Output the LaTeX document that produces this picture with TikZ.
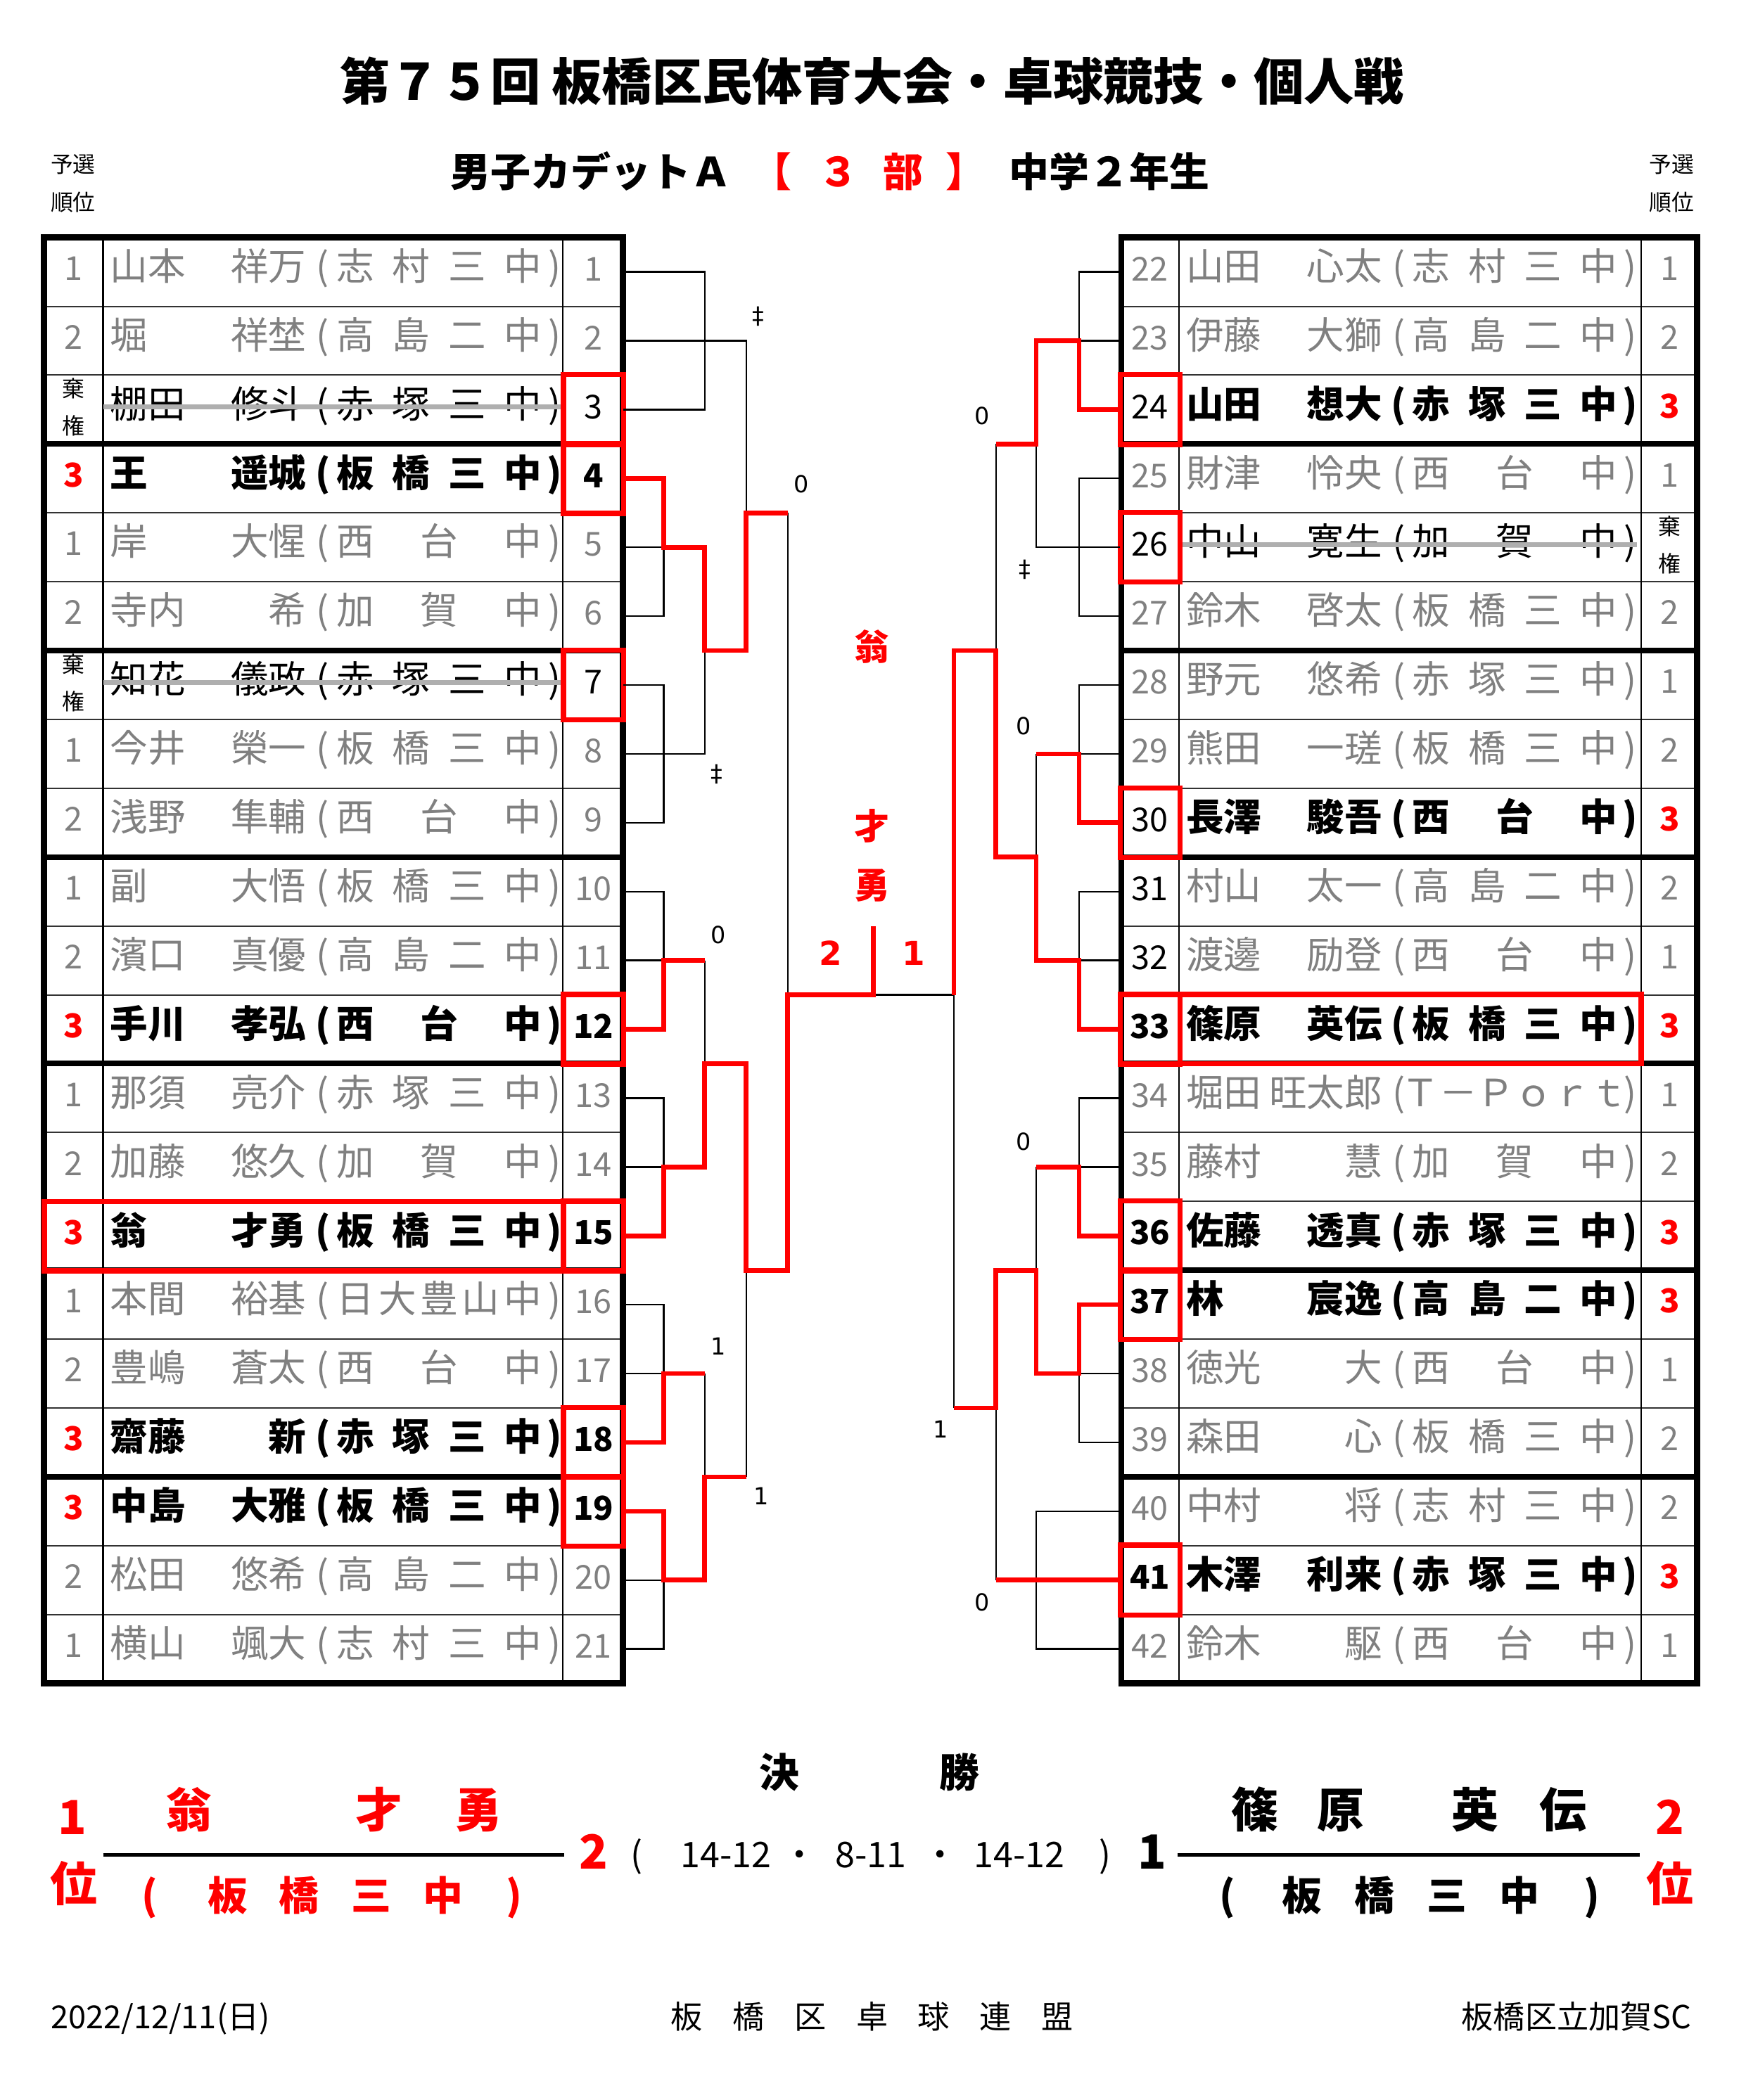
\documentclass[tikz,border=0pt]{standalone}
\usepackage{fontspec}
\setmainfont{Noto Sans CJK JP}
\newfontfamily\latfont{DejaVu Sans}
\usetikzlibrary{positioning}

\definecolor{txtgray}{RGB}{128,128,128}
\definecolor{strikegray}{RGB}{175,175,175}

% spread the letters of a school name over its column
\def\spreadA#1{#1\spreadB}
\def\spreadB#1{\ifx\relax#1\else\hfill#1\expandafter\spreadB\fi}
\newcommand\spreadchars[1]{\expandafter\spreadA#1\relax}

% centre line of a table row
\pgfmathdeclarefunction{ry}{1}{\pgfmathparse{177.3+(#1-0.5)*51.41}}

\begin{document}
\begin{tikzpicture}[x=0.02cm,y=-0.02cm,
  txt/.style={inner sep=0pt, text height=0.88em, text depth=0.12em},
  nm/.style={txt, font=\fontsize{16}{16}\selectfont},
  st g/.style={text=txtgray},
  st w/.style={text=black},
  st b/.style={text=black, execute at begin node=\bfseries},
  numcell/.style={txt, minimum width=0.88cm, minimum height=1.028cm, font=\fontsize{14}{14}\selectfont},
  nu g/.style={text=txtgray},
  nu k/.style={text=black},
  nu b/.style={text=black, execute at begin node=\bfseries},
  rank/.style={txt, font=\fontsize{14}{14}\selectfont},
  rk 1/.style={text=txtgray},
  rk 2/.style={text=txtgray},
  rk 3/.style={text=red, execute at begin node=\bfseries},
  tinyjp/.style={txt, font=\fontsize{9.5}{9.5}\selectfont},
  lab/.style={txt, font=\latfont\fontsize{10}{10}\selectfont},
  sub/.style={txt, font=\bfseries\fontsize{17}{17}\selectfont},
  big/.style={txt, font=\bfseries\fontsize{20}{20}\selectfont},
  mid/.style={txt, font=\bfseries\fontsize{17}{17}\selectfont},
  score/.style={txt, font=\fontsize{15}{15}\selectfont},
  foot/.style={txt, font=\fontsize{13.5}{13.5}\selectfont},
  rowline/.style={black!80, line width=0.6pt},
  grpline/.style={black, line width=2.4pt},
  tabframe/.style={black, line width=2.6pt},
  strike/.style={strikegray, line width=2pt},
  redbox/.style={red, line width=2.2pt},
  bk/.style={black, line width=0.7pt},
  win/.style={red, line width=2pt},
]
\fill[white] (0,0) rectangle (1303,1568);
\useasboundingbox (0,0) rectangle (1303,1568);

% headings
\node[txt, font=\bfseries\fontsize{21.3}{21.3}\selectfont] (title) at (651,68) {第７５回 板橋区民体育大会・卓球競技・個人戦};
\node[sub] (cls) at (441,133) {男子カデットＡ};
\node[sub, red] (bra) at (576,133) {【};
\node[sub, red] (div) at (626,133) {３};
\node[sub, red] (bu) at (674,133) {部};
\node[sub, red] (ket) at (721,133) {】};
\node[sub] (grade) at (828,133) {中学２年生};
\node[tinyjp] (yl1) at (54.5,122.5) {予選};
\node[tinyjp] (yl2) at (54.5,150.5) {順位};
\node[tinyjp] (yr1) at (1248,122.5) {予選};
\node[tinyjp] (yr2) at (1248,150.5) {順位};

% tables
\foreach \xa/\xb/\xc/\xd in {33/77/420/465, 837/880/1225/1267} {
  \foreach \k in {1,...,20}
    \draw[rowline] (\xa,{177.3+\k*51.41}) -- (\xd,{177.3+\k*51.41});
  \foreach \k in {3,6,...,18}
    \draw[grpline] (\xa,{177.3+\k*51.41}) -- (\xd,{177.3+\k*51.41});
  \draw[bk] (\xb,177.3) -- (\xb,1257);
  \draw[bk] (\xc,177.3) -- (\xc,1257);
  \draw[tabframe] (\xa,177.3) rectangle (\xd,1257);
}

% players
\foreach \n/\sur/\giv/\sch/\rk/\st/\ns in {
  1/山本/祥万/志村三中/1/g/g, 2/堀/祥埜/高島二中/2/g/g, 3/棚田/修斗/赤塚三中/x/w/k,
  4/王/遥城/板橋三中/3/b/b, 5/岸/大惺/西台中/1/g/g, 6/寺内/希/加賀中/2/g/g,
  7/知花/儀政/赤塚三中/x/w/k, 8/今井/榮一/板橋三中/1/g/g, 9/浅野/隼輔/西台中/2/g/g,
  10/副/大悟/板橋三中/1/g/g, 11/濱口/真優/高島二中/2/g/g, 12/手川/孝弘/西台中/3/b/b,
  13/那須/亮介/赤塚三中/1/g/g, 14/加藤/悠久/加賀中/2/g/g, 15/翁/才勇/板橋三中/3/b/b,
  16/本間/裕基/日大豊山中/1/g/g, 17/豊嶋/蒼太/西台中/2/g/g, 18/齋藤/新/赤塚三中/3/b/b,
  19/中島/大雅/板橋三中/3/b/b, 20/松田/悠希/高島二中/2/g/g, 21/横山/颯大/志村三中/1/g/g,
  22/山田/心太/志村三中/1/g/g, 23/伊藤/大獅/高島二中/2/g/g, 24/山田/想大/赤塚三中/3/b/k,
  25/財津/怜央/西台中/1/g/g, 26/中山/寛生/加賀中/x/w/k, 27/鈴木/啓太/板橋三中/2/g/g,
  28/野元/悠希/赤塚三中/1/g/g, 29/熊田/一瑳/板橋三中/2/g/g, 30/長澤/駿吾/西台中/3/b/k,
  31/村山/太一/高島二中/2/g/k, 32/渡邊/励登/西台中/1/g/k, 33/篠原/英伝/板橋三中/3/b/b,
  34/堀田/旺太郎/Ｔ－Ｐｏｒｔ/1/g/g, 35/藤村/慧/加賀中/2/g/g, 36/佐藤/透真/赤塚三中/3/b/b,
  37/林/宸逸/高島二中/3/b/b, 38/徳光/大/西台中/1/g/g, 39/森田/心/板橋三中/2/g/g,
  40/中村/将/志村三中/2/g/g, 41/木澤/利来/赤塚三中/3/b/b, 42/鈴木/駆/西台中/1/g/g} {
  \pgfmathsetmacro\namex{\n<22 ? 77 : 880}
  \pgfmathsetmacro\numx{\n<22 ? 443 : 858.5}
  \pgfmathsetmacro\rkx{\n<22 ? 55 : 1246.5}
  \pgfmathsetmacro\rowy{ry(\n<22 ? \n : \n-21)}
  \node[numcell, nu \ns] (n\n) at (\numx,\rowy) {\n};
  \node[nm, st \st, anchor=west] (s\n) at (\namex+5,\rowy-0.5) {\sur};
  \node[nm, st \st, anchor=east] (g\n) at (\namex+152,\rowy-0.5) {\giv};
  \node[nm, st \st] (o\n) at (\namex+164,\rowy-0.5) {(};
  \node[nm, st \st, anchor=west] (c\n) at (\namex+174,\rowy-0.5) {\makebox[3.06cm]{\spreadchars\sch}};
  \node[nm, st \st] (e\n) at (\namex+337,\rowy-0.5) {)};
  \if w\st
    \draw[strike] (\namex,\rowy-2) -- (\namex+342,\rowy-2);
  \fi
  \if x\rk
    \node[tinyjp] (ka\n) at (\rkx,\rowy-16) {棄};
    \node[tinyjp] (kb\n) at (\rkx,\rowy+12) {権};
  \else
    \node[rank, rk \rk] (r\n) at (\rkx,\rowy-0.5) {\rk};
  \fi
}

% red boxes
\foreach \b in {3,4,7,12,15,18,19,24,26,30,33,36,37,41}
  \draw[redbox] (n\b.north west) rectangle (n\b.south east);
\draw[redbox] (33,897.0) rectangle (n15.south east);
\draw[redbox] (n33.north west) rectangle (1225,794.2);

% left bracket
\draw[bk] (n1.east) -| (526,{ry(3)}) -- (n3.east);
\draw[bk] (n2.east) -| (557,{ry(4.5)});
\draw[bk] (n5.east) -| (495.5,{ry(6)}) -- (n6.east);
\draw[bk] (n7.east) -| (495.5,{ry(9)}) -- (n9.east);
\draw[bk] (n8.east) -| (526,{ry(6.5)});
\draw[bk] (588,{ry(4.5)}) -- (588,{ry(11.5)});
\draw[bk] (n10.east) -| (495.5,{ry(11)}) -- (n11.east);
\draw[bk] (526,{ry(11)}) -- (526,{ry(12.5)});
\draw[bk] (n13.east) -| (495.5,{ry(14)}) -- (n14.east);
\draw[bk] (n16.east) -| (495.5,{ry(17)}) -- (n17.east);
\draw[bk] (526,{ry(17)}) -- (526,{ry(18.5)});
\draw[bk] (n20.east) -| (495.5,{ry(21)}) -- (n21.east);
\draw[bk] (557,{ry(15.5)}) -- (557,{ry(18.5)});

% right bracket
\draw[bk] (n22.west) -| (805.5,{ry(2)}) -- (n23.west);
\draw[bk] (n25.west) -| (805.5,{ry(6)}) -- (n27.west);
\draw[bk] (n26.west) -| (773.5,{ry(3.5)});
\draw[bk] (743.4,{ry(3.5)}) -- (743.4,{ry(6.5)});
\draw[bk] (n28.west) -| (805.5,{ry(8)}) -- (n29.west);
\draw[bk] (773.5,{ry(8)}) -- (773.5,{ry(9.5)});
\draw[bk] (n31.west) -| (805.5,{ry(11)}) -- (n32.west);
\draw[bk] (n34.west) -| (805.5,{ry(14)}) -- (n35.west);
\draw[bk] (773.5,{ry(14)}) -- (773.5,{ry(15.5)});
\draw[bk] (n38.west) -| (805.5,{ry(18)}) -- (n39.west);
\draw[bk] (n40.west) -| (773.5,{ry(21)}) -- (n42.west);
\draw[bk] (743.4,{ry(17.5)}) -- (743.4,{ry(20)});
\draw[bk] (712,{ry(11.5)}) -- (712,{ry(17.5)});
\draw[bk] (652,{ry(11.5)}) -- (712,{ry(11.5)});

% winners
\draw[win] (n4.east) -| (495.5,{ry(5)}) -| (526,{ry(6.5)}) -| (557,{ry(4.5)}) -- (588,{ry(4.5)});
\draw[win] (n12.east) -| (495.5,{ry(11)}) -- (526,{ry(11)});
\draw[win] (n15.east) -| (495.5,{ry(14)}) -| (526,{ry(12.5)}) -| (557,{ry(15.5)}) -| (588,{ry(11.5)}) -- (652,{ry(11.5)}) -- (652,{ry(10.5)});
\draw[win] (n18.east) -| (495.5,{ry(17)}) -- (526,{ry(17)});
\draw[win] (n19.east) -| (495.5,{ry(20)}) -| (526,{ry(18.5)}) -- (557,{ry(18.5)});
\draw[win] (n24.west) -| (805.5,{ry(2)}) -| (773.5,{ry(3.5)}) -- (743.4,{ry(3.5)});
\draw[win] (n30.west) -| (805.5,{ry(8)}) -- (773.5,{ry(8)});
\draw[win] (n33.west) -| (805.5,{ry(11)}) -| (773.5,{ry(9.5)}) -| (743.4,{ry(6.5)}) -| (712,{ry(11.5)});
\draw[win] (n36.west) -| (805.5,{ry(14)}) -- (773.5,{ry(14)});
\draw[win] (n37.west) -| (805.5,{ry(17)}) -| (773.5,{ry(15.5)}) -| (743.4,{ry(17.5)}) -- (712,{ry(17.5)});
\draw[win] (n41.west) -- (743.4,{ry(20)});

% scores
\foreach \x/\y/\t [count=\i] in {566/235/‡, 598/361/0, 535/577/‡, 536/698/0, 536/1005/1, 568/1117/1,
  733/310/0, 765/424/‡, 764/542/0, 764/852/0, 702/1067/1, 733/1196/0}
  \node[lab] (sc\i) at (\x,\y) {\t};
\node[txt, red, font=\bfseries\fontsize{15}{15}\selectfont] (ch1) at (651,486) {翁};
\node[txt, red, font=\bfseries\fontsize{15}{15}\selectfont] (ch2) at (651,620) {才};
\node[txt, red, font=\bfseries\fontsize{15}{15}\selectfont] (ch3) at (651,664) {勇};
\node[txt, red, font=\latfont\bfseries\fontsize{14}{14}\selectfont] (fl) at (620,714) {2};
\node[txt, red, font=\latfont\bfseries\fontsize{14}{14}\selectfont] (fr) at (682,714) {1};

% final
\node[mid] (ke) at (582,1328) {決};
\node[mid] (sho) at (716,1328) {勝};
\node[big, red] (p1) at (54,1363) {1};
\node[big, red] (i1) at (55,1413) {位};
\node[big, red] (p2) at (1246.5,1363) {2};
\node[big, red] (i2) at (1246.5,1413) {位};
\foreach \x/\t [count=\i] in {141/翁, 283/才, 357/勇}
  \node[big, red] (wl\i) at (\x,1358) {\t};
\foreach \x/\t [count=\i] in {112/(, 170/板, 223/橋, 277/三, 331/中, 384/)}
  \node[mid, red] (ws\i) at (\x,1420) {\t};
\foreach \x/\t [count=\i] in {937/篠, 1001/原, 1101/英, 1167/伝}
  \node[big] (wr\i) at (\x,1358) {\t};
\foreach \x/\t [count=\i] in {916/(, 972/板, 1026/橋, 1080/三, 1134/中, 1188/)}
  \node[mid] (wt\i) at (\x,1420) {\t};
\draw[line width=1.6pt] (77,1385) -- (421,1385);
\draw[line width=1.6pt] (879,1385) -- (1224,1385);
\node[big, red] (gl) at (443,1389) {2};
\node[big] (gr) at (860,1389) {1};
\foreach \x/\t [count=\i] in {475/(, 542/14-12, 597/・, 650/8-11, 702/・, 761/14-12, 825/)}
  \node[score] (g\i) at (\x,1388) {\t};

% footer
\node[foot, anchor=west] (date) at (37.5,1508) {2022/12/11(日)};
\node[foot] (org) at (651,1508) {\makebox[6.01cm]{\spreadchars{板橋区卓球連盟}}};
\node[foot, anchor=east] (club) at (1263,1508) {板橋区立加賀SC};
\end{tikzpicture}
\end{document}
